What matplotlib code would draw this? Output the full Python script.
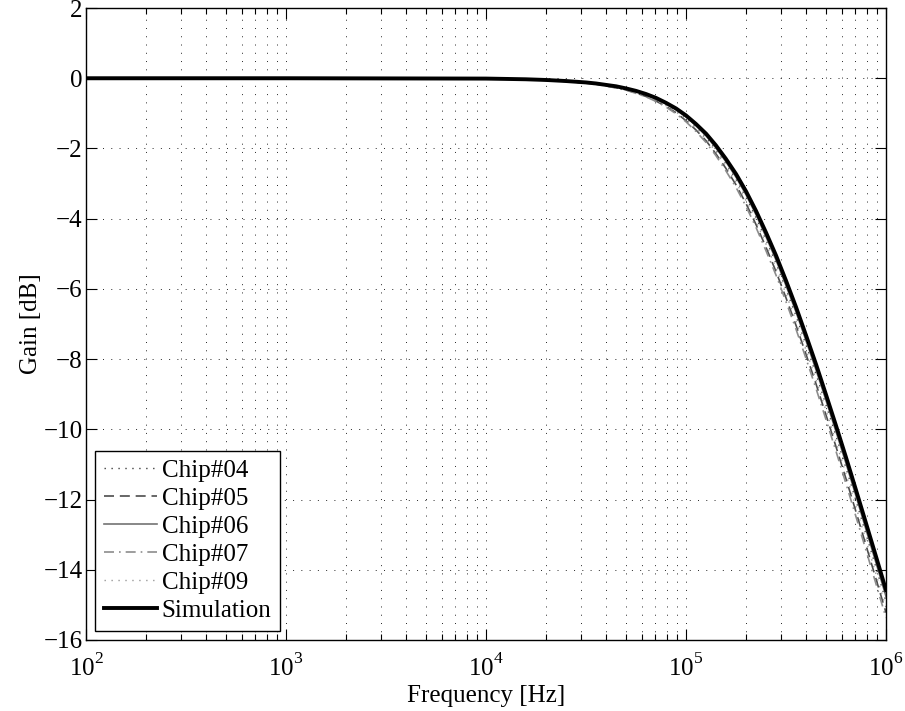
import matplotlib
matplotlib.use("Agg")
import matplotlib.pyplot as plt
import matplotlib._mathtext as _mt
from matplotlib.ticker import LogLocator, LogFormatterMathtext, NullFormatter, MultipleLocator

plt.rcParams['font.family'] = ['Liberation Serif', 'DejaVu Serif']
plt.rcParams['mathtext.fontset'] = 'custom'
plt.rcParams['mathtext.rm'] = 'Liberation Serif'
plt.rcParams['mathtext.it'] = 'Liberation Serif:italic'
plt.rcParams['mathtext.bf'] = 'Liberation Serif:bold'
# raise superscripts a little more, as in the reference tick labels
_mt.FontConstantsBase.sup1 = 0.95

freq = [1e2, 1e3, 1e4, 1.26e4, 1.58e4, 2.0e4, 2.51e4, 3.16e4,
        3.55e4, 3.98e4, 4.47e4, 5.01e4, 5.62e4, 6.31e4, 7.08e4, 7.94e4, 8.91e4, 1e5,
        1.12e5, 1.26e5, 1.41e5, 1.58e5, 1.78e5, 2.0e5, 2.24e5, 2.51e5, 2.82e5, 3.16e5,
        3.55e5, 3.98e5, 4.47e5, 5.01e5, 5.62e5, 6.31e5, 7.08e5, 7.94e5, 8.91e5, 1e6]

simulation = [0.00, 0.00, -0.01, -0.02, -0.03, -0.05, -0.08, -0.12,
              -0.15, -0.19, -0.23, -0.29, -0.36, -0.45, -0.56, -0.70, -0.86, -1.06,
              -1.30, -1.58, -1.91, -2.29, -2.73, -3.23, -3.78, -4.39, -5.05, -5.76,
              -6.52, -7.32, -8.15, -9.01, -9.89, -10.80, -11.73, -12.67, -13.62, -14.58]
chip04 = [-0.01, -0.01, -0.01, -0.02, -0.03, -0.05, -0.09, -0.13,
          -0.16, -0.20, -0.25, -0.31, -0.39, -0.48, -0.60, -0.75, -0.92, -1.13,
          -1.38, -1.68, -2.03, -2.42, -2.88, -3.40, -3.97, -4.60, -5.27, -6.00,
          -6.77, -7.59, -8.43, -9.30, -10.18, -11.10, -12.03, -12.98, -13.93, -14.90]
chip05 = [-0.02, -0.02, -0.02, -0.02, -0.03, -0.06, -0.09, -0.14,
          -0.17, -0.22, -0.27, -0.33, -0.42, -0.52, -0.65, -0.80, -0.98, -1.21,
          -1.47, -1.78, -2.15, -2.56, -3.04, -3.58, -4.17, -4.81, -5.51, -6.25,
          -7.04, -7.86, -8.71, -9.59, -10.49, -11.41, -12.35, -13.30, -14.26, -15.22]
chip06 = [-0.03, -0.03, -0.03, -0.03, -0.04, -0.05, -0.08, -0.12,
          -0.15, -0.20, -0.24, -0.30, -0.38, -0.47, -0.59, -0.73, -0.90, -1.10,
          -1.35, -1.64, -1.98, -2.37, -2.82, -3.33, -3.89, -4.51, -5.18, -5.90,
          -6.66, -7.47, -8.31, -9.17, -10.06, -10.97, -11.90, -12.85, -13.80, -14.76]
chip07 = [-0.02, -0.02, -0.02, -0.02, -0.04, -0.06, -0.09, -0.14,
          -0.18, -0.22, -0.28, -0.34, -0.43, -0.53, -0.66, -0.82, -1.01, -1.24,
          -1.51, -1.83, -2.20, -2.63, -3.11, -3.66, -4.25, -4.91, -5.61, -6.36,
          -7.15, -7.98, -8.84, -9.72, -10.62, -11.55, -12.49, -13.44, -14.40, -15.37]
chip09 = [-0.01, -0.01, -0.01, -0.02, -0.03, -0.05, -0.08, -0.13,
          -0.17, -0.21, -0.26, -0.32, -0.41, -0.50, -0.63, -0.78, -0.96, -1.17,
          -1.43, -1.74, -2.09, -2.50, -2.97, -3.50, -4.08, -4.72, -5.41, -6.14,
          -6.92, -7.74, -8.59, -9.46, -10.35, -11.28, -12.21, -13.16, -14.12, -15.08]

series = [
    ("Chip#04", chip04, dict(color='0.25', ls=(0, (1, 4)), lw=1.0)),
    ("Chip#05", chip05, dict(color='0.3', ls=(0, (6, 3.5)), lw=1.2)),
    ("Chip#06", chip06, dict(color='0.45', ls='-', lw=1.2)),
    ("Chip#07", chip07, dict(color='0.55', ls=(0, (6, 3, 1, 3)), lw=1.2)),
    ("Chip#09", chip09, dict(color='0.6', ls=(0, (1, 4)), lw=1.0)),
    ("Simulation", simulation, dict(color='black', ls='-', lw=2.8)),
]

FS = 18

fig = plt.figure(figsize=(9.05, 7.11), dpi=100)
ax = fig.add_axes([86/905, 1-640/711, 800/905, 632/711])

for name, vals, st in series:
    ax.semilogx(freq, vals, label=name, **st)

ax.set_xlim(1e2, 1e6)
ax.set_ylim(-16, 2)
ax.yaxis.set_major_locator(MultipleLocator(2))
ax.xaxis.set_major_locator(LogLocator(base=10, numticks=10))
ax.xaxis.set_minor_locator(LogLocator(base=10, subs=range(2, 10), numticks=50))
ax.xaxis.set_major_formatter(LogFormatterMathtext())
ax.xaxis.set_minor_formatter(NullFormatter())

grid_kw = dict(color='0.15', linestyle=(0, (1, 7.5)), linewidth=0.7)
ax.grid(True, which='major', axis='both', **grid_kw)
ax.grid(True, which='minor', axis='x', **grid_kw)

ax.tick_params(which='both', direction='in', top=True, right=True, labelsize=FS,
               width=0.8, color='k')
ax.tick_params(which='major', length=8)
ax.tick_params(which='minor', length=4)
ax.tick_params(axis='x', pad=10)
ax.tick_params(axis='y', pad=2.5)
for s in ax.spines.values():
    s.set_linewidth(1.0)

ax.set_xlabel("Frequency [Hz]", fontsize=FS, labelpad=3)
ax.set_ylabel("Gain [dB]", fontsize=FS, labelpad=1)

leg = ax.legend(loc='lower left', fontsize=FS, frameon=True, fancybox=False,
                edgecolor='black', framealpha=1, handlelength=2.1,
                handletextpad=0.2, borderpad=0.35, labelspacing=0.22,
                borderaxespad=0.37)
leg.get_frame().set_linewidth(1.0)

fig.savefig("out.png", dpi=100)
